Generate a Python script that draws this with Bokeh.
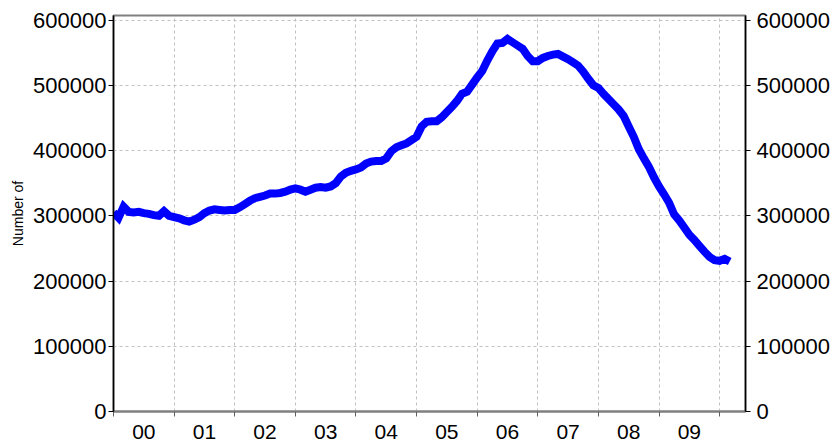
from bokeh.plotting import figure
from bokeh.models import LinearAxis, FixedTicker, Range1d, BasicTickFormatter
from bokeh.embed import file_html
from bokeh.resources import INLINE

# Monthly series, Jan 2000 .. Mar 2010
start_year = 2000
values = [
    305, 297, 314, 306, 305, 306, 304, 303, 301, 300, 307, 300,
    298, 296, 293, 291, 294, 298, 304, 308, 310, 309, 308, 309,
    309, 313, 318, 323, 327, 329, 331, 334, 334, 335, 337, 340,
    342, 340, 337, 340, 343, 344, 343, 345, 350, 360, 366, 369,
    371, 374, 380, 383, 384, 384, 388, 399, 405, 408, 411, 416,
    421, 437, 444, 445, 445, 451, 459, 467, 476, 487, 490, 501,
    512, 522, 538, 552, 564, 565, 571, 566, 561, 556, 545, 537,
    537, 542, 545, 547, 548, 544, 540, 535, 530, 521, 510, 500,
    496, 487, 479, 471, 463, 453, 437, 421, 402, 388, 375, 359,
    345, 333, 320, 302, 293, 282, 271, 263, 254, 245, 237, 232,
    231, 234, 230,
]
values = [v * 1000 for v in values]
x_years = [start_year + i / 12 for i in range(len(values))]

year_bounds = list(range(2000, 2011))
year_mids = [y + 0.5 for y in range(2000, 2010)]
year_labels = ["00", "01", "02", "03", "04", "05", "06", "07", "08", "09"]
y_ticks = [0, 100000, 200000, 300000, 400000, 500000, 600000]

FONT = "Liberation Sans"

p = figure(width=832, height=445, output_backend="svg", toolbar_location=None,
           x_range=Range1d(2000, 2010.427), y_range=Range1d(0, 607000),
           min_border_left=113, min_border_right=84, min_border_top=15,
           min_border_bottom=34)
p.background_fill_color = "white"
p.border_fill_color = "white"
p.outline_line_color = "#808080"
p.outline_line_width = 2

p.line(x_years, values, line_color="#0000FF", line_width=8, line_join="miter")

# bottom axis
xa = p.xaxis[0]
xa.ticker = FixedTicker(ticks=year_mids, minor_ticks=year_bounds)
xa.major_label_overrides = {m: l for m, l in zip(year_mids, year_labels)}
xa.major_tick_out = 0
xa.major_tick_in = 0
xa.minor_tick_out = 5
xa.minor_tick_in = 0
xa.minor_tick_line_color = "#606060"
xa.axis_line_color = "#808080"
xa.axis_line_width = 2
xa.major_label_text_font = FONT
xa.major_label_text_font_size = "21px"
xa.major_label_text_color = "black"
xa.major_label_standoff = 8

# left axis
ya = p.yaxis[0]
ya.ticker = FixedTicker(ticks=y_ticks)
ya.formatter = BasicTickFormatter(use_scientific=False)
ya.major_tick_out = 5
ya.major_tick_in = 0
ya.minor_tick_out = 0
ya.minor_tick_in = 0
ya.axis_line_color = "black"
ya.axis_line_width = 1.5
ya.major_label_text_font = FONT
ya.major_label_text_font_size = "22px"
ya.major_label_text_color = "black"
ya.major_label_standoff = 2
ya.axis_label = "Number of"
ya.axis_label_text_font = FONT
ya.axis_label_text_font_size = "14px"
ya.axis_label_text_font_style = "normal"
ya.axis_label_text_color = "black"
ya.axis_label_standoff = 4

# right axis
ra = LinearAxis(ticker=FixedTicker(ticks=y_ticks),
                formatter=BasicTickFormatter(use_scientific=False))
ra.major_tick_out = 5
ra.major_tick_in = 0
ra.minor_tick_out = 0
ra.minor_tick_in = 0
ra.axis_line_color = "black"
ra.axis_line_width = 1.5
ra.major_label_text_font = FONT
ra.major_label_text_font_size = "22px"
ra.major_label_text_color = "black"
ra.major_label_standoff = 6
p.add_layout(ra, "right")

# grids
p.xgrid.ticker = FixedTicker(ticks=year_bounds)
p.xgrid.grid_line_color = "#c0c0c0"
p.xgrid.grid_line_dash = "3 3"
p.xgrid.grid_line_width = 1
p.ygrid.ticker = FixedTicker(ticks=y_ticks)
p.ygrid.grid_line_color = "#c0c0c0"
p.ygrid.grid_line_dash = "3 3"
p.ygrid.grid_line_width = 1

open("out.html", "w").write(file_html(p, INLINE))
